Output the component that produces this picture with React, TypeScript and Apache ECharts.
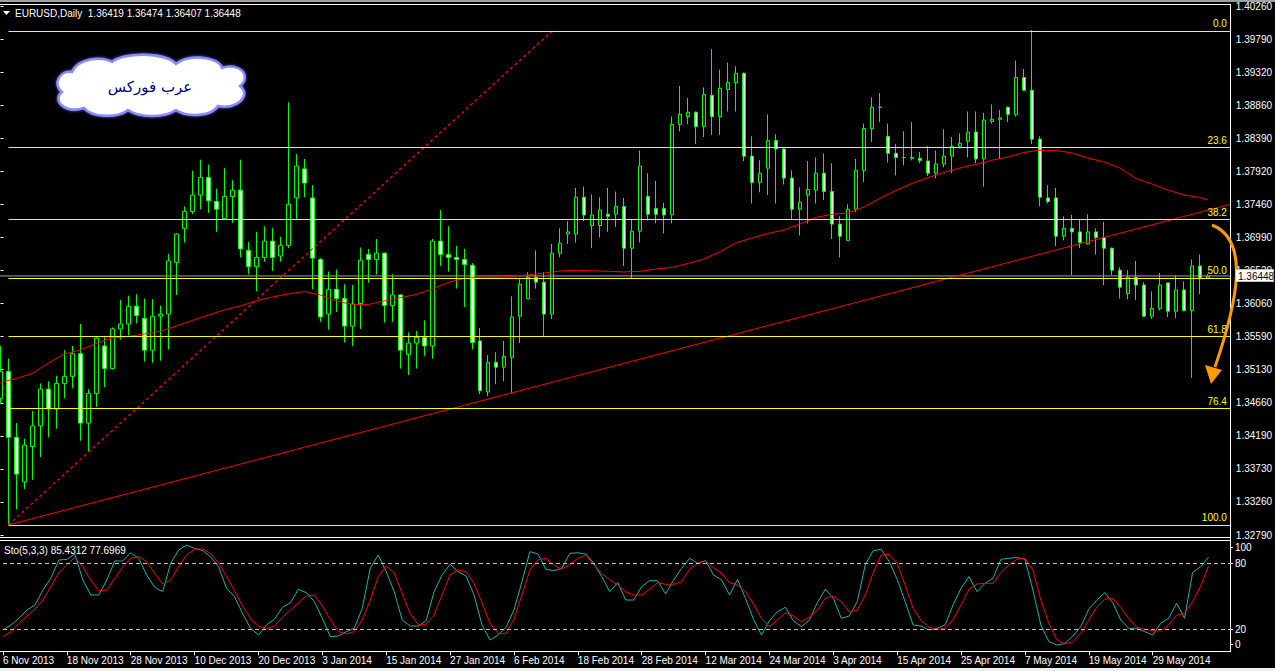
import React, { useEffect, useRef } from 'react';
import * as echarts from 'echarts';

// ---------- DATA ----------
const symbolTitle = 'EURUSD,Daily';
const tickLabels = ['6 Nov 2013', '18 Nov 2013', '28 Nov 2013', '10 Dec 2013', '20 Dec 2013', '3 Jan 2014', '15 Jan 2014', '27 Jan 2014', '6 Feb 2014', '18 Feb 2014', '28 Feb 2014', '12 Mar 2014', '24 Mar 2014', '3 Apr 2014', '15 Apr 2014', '25 Apr 2014', '7 May 2014', '19 May 2014', '29 May 2014'];
const barsPerTick = 8;
const priceTickLabels = ['1.32790', '1.33260', '1.33730', '1.34190', '1.34660', '1.35130', '1.35590', '1.36060', '1.36520', '1.36990', '1.37460', '1.37920', '1.38390', '1.38860', '1.39320', '1.39790', '1.40260'];
const priceMin = 1.3279;
const priceMax = 1.4026;
const priceStep = 0.00466875;

const opens = [
  1.3472, 1.3510, 1.3417, 1.3354, 1.3404, 1.3433, 1.3485, 1.3457, 1.3493, 1.3503,
  1.3535, 1.3437, 1.3479, 1.3546, 1.3514, 1.3570, 1.3577, 1.3602, 1.3585, 1.3540,
  1.3588, 1.3591, 1.3664, 1.3712, 1.3736, 1.3759, 1.3784, 1.3750, 1.3726, 1.3757,
  1.3766, 1.3681, 1.3658, 1.3671, 1.3694, 1.3673, 1.3688, 1.3755, 1.3796, 1.3755,
  1.3668, 1.3591, 1.3626, 1.3613, 1.3574, 1.3606, 1.3675, 1.3668, 1.3677, 1.3603,
  1.3618, 1.3534, 1.3550, 1.3558, 1.3546, 1.3694, 1.3675, 1.3671, 1.3668, 1.3660,
  1.3553, 1.3481, 1.3523, 1.3516, 1.3530, 1.3588, 1.3613, 1.3643, 1.3636, 1.3591,
  1.3677, 1.3704, 1.3704, 1.3756, 1.3716, 1.3716, 1.3732, 1.3732, 1.3743, 1.3684,
  1.3708, 1.3757, 1.3740, 1.3740, 1.3731, 1.3859, 1.3870, 1.3876, 1.3856, 1.3900,
  1.3870, 1.3908, 1.3918, 1.3931, 1.3814, 1.3777, 1.3797, 1.3836, 1.3824, 1.3783,
  1.3739, 1.3759, 1.3766, 1.3790, 1.3764, 1.3718, 1.3695, 1.3739, 1.3794, 1.3853,
  1.3883, 1.3842, 1.3818, 1.3812, 1.3811, 1.3811, 1.3807, 1.3790, 1.3803, 1.3814,
  1.3828, 1.3835, 1.3848, 1.3810, 1.3863, 1.3866, 1.3883, 1.3873, 1.3925, 1.3907,
  1.3838, 1.3755, 1.3755, 1.3701, 1.3712, 1.3707, 1.3690, 1.3707, 1.3699, 1.3684,
  1.3653, 1.3620, 1.3643, 1.3632, 1.3588, 1.3599, 1.3635, 1.3595, 1.3625, 1.3596,
  1.3659, 1.36419
];
const highs = [
  1.3546, 1.3528, 1.3437, 1.3415, 1.3454, 1.3493, 1.3496, 1.3504, 1.3540, 1.3546,
  1.3577, 1.3485, 1.3558, 1.3558, 1.3572, 1.3611, 1.3617, 1.3619, 1.3613, 1.3612,
  1.3603, 1.3676, 1.3705, 1.3743, 1.3793, 1.3809, 1.3802, 1.3768, 1.3797, 1.3780,
  1.3809, 1.3693, 1.3707, 1.3715, 1.3713, 1.3700, 1.3890, 1.3817, 1.3810, 1.3773,
  1.3670, 1.3651, 1.3654, 1.3633, 1.3632, 1.3685, 1.3683, 1.3697, 1.3678, 1.3647,
  1.3619, 1.3565, 1.3567, 1.3582, 1.3697, 1.3738, 1.3715, 1.3687, 1.3683, 1.3663,
  1.3571, 1.3533, 1.3537, 1.3553, 1.3616, 1.3640, 1.3650, 1.3681, 1.3650, 1.3690,
  1.3712, 1.3722, 1.3769, 1.3771, 1.3760, 1.3756, 1.3769, 1.3764, 1.3755, 1.3725,
  1.3822, 1.3790, 1.3779, 1.3748, 1.3870, 1.3913, 1.3896, 1.3877, 1.3911, 1.3965,
  1.3936, 1.3946, 1.3941, 1.3932, 1.3842, 1.3808, 1.3873, 1.3845, 1.3825, 1.3794,
  1.3770, 1.3807, 1.3812, 1.3818, 1.3804, 1.3729, 1.3746, 1.3810, 1.3860, 1.3897,
  1.3903, 1.3860, 1.3831, 1.3849, 1.3862, 1.3820, 1.3828, 1.3822, 1.3852, 1.3841,
  1.3846, 1.3877, 1.3877, 1.3875, 1.3887, 1.3879, 1.3884, 1.3949, 1.3937, 1.3992,
  1.3842, 1.3773, 1.3769, 1.3729, 1.3731, 1.3725, 1.3732, 1.3712, 1.3721, 1.3685,
  1.3657, 1.3653, 1.3666, 1.3636, 1.3623, 1.3649, 1.3635, 1.3646, 1.3637, 1.3668,
  1.3675, 1.36474
];
const lows = [
  1.3465, 1.3293, 1.3315, 1.3344, 1.3357, 1.3389, 1.3417, 1.3429, 1.3472, 1.3486,
  1.3412, 1.3397, 1.3460, 1.3488, 1.3513, 1.3555, 1.3561, 1.3578, 1.3524, 1.3522,
  1.3525, 1.3541, 1.3618, 1.3692, 1.3732, 1.3739, 1.3734, 1.3707, 1.3724, 1.3720,
  1.3671, 1.3647, 1.3623, 1.3665, 1.3652, 1.3665, 1.3684, 1.3725, 1.3756, 1.3626,
  1.3580, 1.3569, 1.3594, 1.3551, 1.3546, 1.3570, 1.3635, 1.3647, 1.3579, 1.3580,
  1.3514, 1.3505, 1.3514, 1.3532, 1.3528, 1.3659, 1.3651, 1.3627, 1.3601, 1.3541,
  1.3478, 1.3475, 1.3492, 1.3496, 1.3479, 1.3550, 1.3612, 1.3627, 1.3560, 1.3584,
  1.3671, 1.3690, 1.3692, 1.3722, 1.3684, 1.3699, 1.3707, 1.3714, 1.3659, 1.3642,
  1.3692, 1.3723, 1.3719, 1.3705, 1.3719, 1.3849, 1.3859, 1.3831, 1.3841, 1.3844,
  1.3844, 1.3877, 1.3877, 1.3807, 1.3747, 1.3763, 1.3759, 1.3747, 1.3774, 1.3725,
  1.3702, 1.3719, 1.3747, 1.3752, 1.3697, 1.3671, 1.3694, 1.3735, 1.3777, 1.3834,
  1.3862, 1.3805, 1.3787, 1.3801, 1.3808, 1.3804, 1.3786, 1.3783, 1.3798, 1.3790,
  1.3825, 1.3812, 1.3804, 1.3771, 1.3860, 1.3810, 1.3862, 1.3870, 1.3907, 1.3831,
  1.3743, 1.3747, 1.3687, 1.3695, 1.3646, 1.3684, 1.3689, 1.3675, 1.3632, 1.3646,
  1.3613, 1.3612, 1.3611, 1.3587, 1.3584, 1.3596, 1.3587, 1.3585, 1.3595, 1.3501,
  1.3619, 1.36407
];
const closes = [
  1.3510, 1.3417, 1.3365, 1.3406, 1.3433, 1.3485, 1.3457, 1.3493, 1.3503, 1.3535,
  1.3437, 1.3479, 1.3557, 1.3514, 1.3570, 1.3577, 1.3602, 1.3589, 1.3540, 1.3588,
  1.3591, 1.3666, 1.3704, 1.3736, 1.3759, 1.3784, 1.3751, 1.3739, 1.3757, 1.3766,
  1.3683, 1.3658, 1.3671, 1.3694, 1.3671, 1.3688, 1.3746, 1.3800, 1.3776, 1.3670,
  1.3587, 1.3626, 1.3613, 1.3574, 1.3605, 1.3667, 1.3668, 1.3677, 1.3603, 1.3618,
  1.3540, 1.3550, 1.3558, 1.3546, 1.3694, 1.3675, 1.3671, 1.3668, 1.3661, 1.3551,
  1.3483, 1.3523, 1.3516, 1.3531, 1.3587, 1.3633, 1.3643, 1.3636, 1.3591, 1.3677,
  1.3691, 1.3707, 1.3756, 1.3731, 1.3731, 1.3738, 1.3729, 1.3743, 1.3684, 1.3708,
  1.3800, 1.3732, 1.3732, 1.3731, 1.3859, 1.3873, 1.3876, 1.3856, 1.3901, 1.3870,
  1.3910, 1.3918, 1.3931, 1.3814, 1.3777, 1.3790, 1.3836, 1.3824, 1.3783, 1.3739,
  1.3749, 1.3767, 1.3790, 1.3764, 1.3718, 1.3701, 1.3739, 1.3794, 1.3853, 1.3883,
  1.3883, 1.3818, 1.3812, 1.3812, 1.3812, 1.3808, 1.3790, 1.3803, 1.3814, 1.3828,
  1.3832, 1.3848, 1.3810, 1.3865, 1.3866, 1.3868, 1.3873, 1.3925, 1.3907, 1.3838,
  1.3756, 1.3750, 1.3701, 1.3712, 1.3707, 1.3692, 1.3707, 1.3699, 1.3684, 1.3653,
  1.3629, 1.3643, 1.3632, 1.3588, 1.3599, 1.3632, 1.3595, 1.3625, 1.3596, 1.3659,
  1.3642, 1.36448
];

// moving average (red), read every other bar
const maBars = [0, 2, 4, 6, 8, 10, 12, 14, 16, 18, 20, 22, 24, 26, 28, 30, 32, 34, 36, 38, 40, 42, 44, 46, 48, 50, 52, 54, 56, 58, 60, 62, 64, 66, 68, 70, 72, 74, 76, 78, 80, 82, 84, 86, 88, 90, 92, 94, 96, 98, 100, 102, 104, 106, 108, 110, 112, 114, 116, 118, 120, 122, 124, 126, 128, 130, 132, 134, 136, 138, 140, 142, 144, 146, 148, 150, 151];
const maValues = [
  1.34944, 1.35001, 1.35071, 1.35219, 1.35347, 1.35403, 1.35495, 1.35573, 1.35594, 1.35629,
  1.35667, 1.35742, 1.35820, 1.35897, 1.35968, 1.36024, 1.36095, 1.36151, 1.36194, 1.36229,
  1.36180, 1.36095, 1.36045, 1.36045, 1.36095, 1.36141, 1.36187, 1.36264, 1.36356, 1.36413,
  1.36430, 1.36430, 1.36441, 1.36462, 1.36490, 1.36518, 1.36528, 1.36521, 1.36514, 1.36504,
  1.36514, 1.36547, 1.36568, 1.36624, 1.36688, 1.36791, 1.36914, 1.36984, 1.37048, 1.37097,
  1.37182, 1.37274, 1.37319, 1.37337, 1.37422, 1.37545, 1.37655, 1.37754, 1.37836, 1.37909,
  1.37973, 1.38022, 1.38082, 1.38128, 1.38192, 1.38223, 1.38220, 1.38185, 1.38114, 1.38058,
  1.37973, 1.37825, 1.37747, 1.37662, 1.37592, 1.37556, 1.37521
];

// Fibonacci retracement object
const fibLevels = [0, 23.6, 38.2, 50, 61.8, 76.4, 100];
const fibLowBar = 1;
const fibLowPrice = 1.32932;
const fibHighBar = 69;
const fibHighPrice = 1.39907;

// trend line anchors (ray)
const trendBars = [1, 61];
const trendPrices = [1.32932, 1.3471];

// Stochastic(5,3,3)
const stochK = [
  19.4, 23.9, 30.0, 37.5, 42.1, 55.7, 66.4, 83.0, 83.6, 88.5,
  64.8, 51.2, 51.2, 64.8, 82.1, 82.1, 89.6, 84.5, 69.4, 58.2,
  54.2, 80.0, 92.1, 96.6, 93.6, 91.5, 86.1, 76.9, 57.3, 49.7,
  34.5, 20.9, 14.8, 23.9, 29.1, 40.0, 44.2, 56.4, 53.3, 45.2,
  30.0, 13.3, 13.9, 17.9, 20.9, 39.1, 75.4, 87.5, 72.4, 54.2,
  28.5, 23.0, 23.0, 27.8, 54.2, 69.4, 79.1, 72.4, 68.5, 51.2,
  23.9, 10.3, 14.8, 21.8, 37.5, 63.3, 90.6, 88.5, 74.5, 73.3,
  75.4, 89.0, 89.6, 88.5, 80.0, 67.9, 54.2, 62.4, 46.6, 46.6,
  58.8, 64.2, 64.2, 52.1, 64.8, 75.4, 84.5, 80.0, 82.4, 69.4,
  64.8, 51.2, 65.4, 48.1, 29.1, 14.8, 27.8, 36.0, 40.0, 27.8,
  22.4, 28.5, 44.2, 56.4, 48.1, 30.0, 32.1, 45.1, 78.5, 91.5,
  92.7, 81.5, 65.4, 45.1, 23.9, 23.0, 19.4, 20.9, 23.9, 42.1,
  57.3, 67.9, 54.2, 61.8, 66.4, 83.6, 84.5, 85.4, 83.6, 55.7,
  23.9, 8.8, 5.7, 7.2, 13.9, 22.4, 38.2, 46.6, 53.3, 44.2,
  28.5, 20.9, 20.9, 17.9, 14.8, 25.4, 30.0, 43.6, 30.0, 71.5,
  76.9, 85.4312
];
const stochD = [
  13.3, 17.9, 25.4, 32.1, 38.2, 46.6, 58.8, 71.5, 78.5, 85.5,
  76.9, 64.8, 55.1, 55.7, 66.4, 76.9, 84.5, 86.1, 81.5, 70.9,
  61.2, 64.8, 76.9, 87.5, 93.0, 93.0, 89.0, 80.6, 67.9, 55.1,
  41.2, 30.0, 23.0, 20.3, 23.0, 30.9, 37.5, 44.2, 50.3, 51.2,
  41.2, 29.1, 17.9, 15.8, 17.9, 28.5, 46.6, 67.9, 77.6, 71.5,
  52.7, 34.5, 24.5, 24.5, 33.0, 51.2, 69.4, 73.9, 72.4, 61.8,
  44.2, 25.4, 16.3, 16.3, 29.1, 51.2, 73.9, 83.0, 84.5, 78.5,
  74.5, 79.1, 84.5, 87.5, 78.5, 70.9, 64.8, 60.3, 54.2, 51.2,
  51.2, 56.4, 62.4, 60.9, 60.9, 63.3, 74.5, 80.0, 82.1, 76.0,
  70.9, 62.4, 60.3, 54.2, 43.0, 30.0, 22.4, 28.5, 35.1, 32.1,
  26.9, 30.9, 37.5, 48.1, 50.3, 45.1, 36.0, 37.5, 51.2, 71.5,
  87.5, 88.1, 80.0, 60.3, 39.1, 27.8, 21.8, 20.0, 20.9, 28.5,
  42.1, 56.4, 61.2, 61.8, 61.8, 71.5, 78.5, 83.6, 84.5, 73.9,
  46.6, 25.4, 10.3, 6.6, 8.8, 16.3, 28.5, 40.0, 47.5, 48.1,
  40.0, 30.0, 21.8, 20.0, 18.7, 18.4, 23.9, 33.0, 34.5, 45.1,
  58.8, 77.6969
];
const stochLevels = [20, 80];
const stochAxisLabels = [100, 80, 20, 0];
const logoText = 'عرب فوركس';

// ---------- STYLE ----------
const FONT = 'Liberation Sans, Arial, sans-serif';
const X_MAX = 153.75;

const cloudPath =
  'M 72 72 C 60 70 52 84 62 92 C 52 100 64 114 84 108 C 92 118 118 118 128 110 C 140 118 164 118 176 110 ' +
  'C 188 118 212 116 218 106 C 236 110 252 96 240 86 C 252 76 240 62 222 68 C 218 56 188 54 176 64 ' +
  'C 166 52 122 52 112 62 C 102 56 78 58 72 72 Z';

export default function App() {
  const ref = useRef<HTMLDivElement>(null);

  useEffect(() => {
    if (!ref.current) return;
    try {
      echarts.graphic.registerShape('cloudLogo', echarts.graphic.extendPath(cloudPath, {}));
    } catch (e) { /* already registered */ }
    const chart = echarts.init(ref.current, null, { renderer: 'svg' });

    const last = opens.length - 1;
    const candleData = opens.map((o, i) => [i, o, closes[i], lows[i], highs[i]]);
    const maData = maBars.map((b, i) => [b, maValues[i]]);
    const kData = stochK.map((v, i) => [i, v]);
    const dData = stochD.map((v, i) => [i, v]);
    const trendSlope = (trendPrices[1] - trendPrices[0]) / (trendBars[1] - trendBars[0]);
    const trendData = [
      [trendBars[0], trendPrices[0]],
      [X_MAX, trendPrices[0] + trendSlope * (X_MAX - trendBars[0])],
    ];
    const fibRange = fibHighPrice - fibLowPrice;
    const fibLines = fibLevels.map((lv) => {
      const p = fibHighPrice - (fibRange * lv) / 100;
      return [
        { coord: [fibLowBar, p], label: { formatter: lv.toFixed(1) } },
        { coord: [X_MAX, p] },
      ];
    });
    const tickBars = tickLabels.map((_, i) => i * barsPerTick);

    const option: any = {
      animation: false,
      backgroundColor: '#000000',
      grid: [
        { left: 0.5, top: 6, width: 1230, height: 529 },
        { left: 0.5, top: 541.3, width: 1230, height: 110 },
      ],
      xAxis: [
        { type: 'value', gridIndex: 0, min: 0, max: X_MAX, show: false },
        {
          type: 'value', gridIndex: 1, min: 0, max: X_MAX, interval: barsPerTick,
          axisLine: { show: false },
          splitLine: { show: false },
          axisTick: { show: true, length: 4, lineStyle: { color: '#ffffff' }, customValues: tickBars },
          axisLabel: {
            color: '#ffffff', fontSize: 10, fontFamily: FONT, align: 'left', margin: 4,
            showMinLabel: true, showMaxLabel: true, hideOverlap: false, customValues: tickBars,
            formatter: (v: number) => tickLabels[Math.round(v / barsPerTick)] || '',
          },
        },
      ],
      yAxis: [
        {
          type: 'value', gridIndex: 0, position: 'right', min: priceMin, max: priceMax, interval: priceStep,
          axisLine: { show: false },
          splitLine: { show: false },
          axisTick: { show: true, length: 3, lineStyle: { color: '#ffffff' } },
          axisLabel: {
            color: '#ffffff', fontSize: 10, fontFamily: FONT, margin: 6,
            showMinLabel: true, showMaxLabel: true,
            formatter: (v: number) => priceTickLabels[Math.round((v - priceMin) / priceStep)] || '',
          },
        },
        { type: 'value', gridIndex: 1, position: 'right', min: 0, max: 100, show: false },
      ],
      series: [
        {
          type: 'candlestick', xAxisIndex: 0, yAxisIndex: 0, data: candleData, barWidth: 4,
          itemStyle: { color: '#000000', color0: '#ffffff', borderColor: '#00ff00', borderColor0: '#00ff00', borderWidth: 1 },
          emphasis: { disabled: true }, silent: true,
        },
        {
          type: 'line', xAxisIndex: 0, yAxisIndex: 0, data: [[fibLowBar, fibLowPrice]], symbol: 'none', silent: true,
          lineStyle: { width: 0 },
          markLine: {
            silent: true, symbol: ['none', 'none'], animation: false,
            lineStyle: { color: '#ffff00', width: 1, type: 'solid' },
            label: { show: true, position: 'insideEndTop', color: '#ffff00', fontSize: 10, fontFamily: FONT, distance: [3, 2] },
            data: fibLines,
          },
        },
        {
          type: 'line', xAxisIndex: 0, yAxisIndex: 0, symbol: 'none', silent: true,
          data: [[-1, closes[last]], [X_MAX, closes[last]]],
          lineStyle: { color: '#a0a0a0', width: 1 },
        },
        {
          type: 'line', xAxisIndex: 0, yAxisIndex: 0, symbol: 'none', silent: true,
          data: [[fibLowBar, fibLowPrice], [fibHighBar, fibHighPrice]],
          lineStyle: { color: '#ff0000', width: 1.3, type: [3, 3] },
        },
        {
          type: 'line', xAxisIndex: 0, yAxisIndex: 0, symbol: 'none', silent: true,
          data: trendData, lineStyle: { color: '#ff0000', width: 1 },
        },
        {
          type: 'line', xAxisIndex: 0, yAxisIndex: 0, symbol: 'none', silent: true,
          data: maData, lineStyle: { color: '#ff0000', width: 1 },
        },
        {
          type: 'line', xAxisIndex: 1, yAxisIndex: 1, symbol: 'none', silent: true,
          data: kData, lineStyle: { color: '#20b2aa', width: 1 },
          markLine: {
            silent: true, symbol: ['none', 'none'], animation: false, label: { show: false },
            lineStyle: { color: '#c0c0c0', width: 1, type: [4, 3] },
            data: stochLevels.map((l) => ({ yAxis: l })),
          },
        },
        {
          type: 'line', xAxisIndex: 1, yAxisIndex: 1, symbol: 'none', silent: true,
          data: dData, lineStyle: { color: '#ff0000', width: 1 },
        },
      ],
    };
    chart.setOption(option);

    const yPrice = chart.convertToPixel({ yAxisIndex: 0 }, closes[last]) as number;
    const stochTexts = stochAxisLabels.map((v) => {
      let y = chart.convertToPixel({ yAxisIndex: 1 }, v) as number;
      y = Math.min(644, Math.max(547, y));
      return [
        { type: 'line', shape: { x1: 1231, y1: Math.round(y) + 0.5, x2: 1233, y2: Math.round(y) + 0.5 }, style: { stroke: '#ffffff', lineWidth: 1 } },
        { type: 'text', x: 1235, y, style: { text: String(v), fill: '#ffffff', font: `10px ${FONT}`, verticalAlign: 'middle' } },
      ];
    }).flat();

    const header = `${symbolTitle}  ${opens[last].toFixed(5)} ${highs[last].toFixed(5)} ${lows[last].toFixed(5)} ${closes[last].toFixed(5)}`;
    const stoLabel = `Sto(5,3,3) ${stochK[last].toFixed(4)} ${stochD[last].toFixed(4)}`;

    chart.setOption({
      graphic: [
        { type: 'rect', shape: { x: 0, y: 0, width: 1275, height: 2 }, style: { fill: '#a0a0a0' } },
        { type: 'line', shape: { x1: 0, y1: 4.5, x2: 1231, y2: 4.5 }, style: { stroke: '#ffffff', lineWidth: 1 } },
        { type: 'line', shape: { x1: 1230.5, y1: 4, x2: 1230.5, y2: 652 }, style: { stroke: '#ffffff', lineWidth: 1 } },
        { type: 'line', shape: { x1: 0, y1: 537.5, x2: 1231, y2: 537.5 }, style: { stroke: '#ffffff', lineWidth: 1 } },
        { type: 'line', shape: { x1: 0, y1: 540.5, x2: 1231, y2: 540.5 }, style: { stroke: '#ffffff', lineWidth: 1 } },
        { type: 'line', shape: { x1: 0, y1: 651.5, x2: 1231, y2: 651.5 }, style: { stroke: '#ffffff', lineWidth: 1 } },
        { type: 'rect', shape: { x: 0, y: 668, width: 1275, height: 3 }, style: { fill: '#f0f0f0' } },
        { type: 'polygon', shape: { points: [[3, 11], [10, 11], [6.5, 15]] }, style: { fill: '#ffffff' } },
        { type: 'text', x: 15, y: 13, style: { text: header, fill: '#ffffff', font: `10px ${FONT}`, verticalAlign: 'middle' } },
        { type: 'text', x: 4, y: 550, style: { text: stoLabel, fill: '#ffffff', font: `10px ${FONT}`, verticalAlign: 'middle' } },
        ...stochTexts,
        {
          type: 'cloudLogo', x: 0, y: 0, z: 100,
          style: { fill: '#ffffff', stroke: '#8c8cff', lineWidth: 2.5, shadowBlur: 3, shadowColor: '#6060ff' },
        },
        {
          type: 'text', x: 150, y: 87, z: 101,
          style: { text: logoText, fill: '#000080', font: '15px DejaVu Sans', align: 'center', verticalAlign: 'middle' },
        },
        {
          type: 'bezierCurve', z: 100,
          shape: { x1: 1212, y1: 225, cpx1: 1250, cpy1: 240, cpx2: 1238, cpy2: 300, x2: 1215, y2: 367 },
          style: { stroke: '#ff9a00', lineWidth: 3, fill: null },
        },
        {
          type: 'polygon', z: 100,
          shape: { points: [[1205, 365], [1222, 370], [1211, 384]] },
          style: { fill: '#ff9a00' },
        },
        { type: 'rect', z: 100, shape: { x: 1235.5, y: Math.round(yPrice) - 6.5, width: 38, height: 12 }, style: { fill: '#ffffff', stroke: '#c0c0c0', lineWidth: 1 } },
        { type: 'text', z: 101, x: 1238, y: Math.round(yPrice), style: { text: closes[last].toFixed(5), fill: '#000000', font: `10px ${FONT}`, verticalAlign: 'middle' } },
      ],
    });

    return () => chart.dispose();
  }, []);

  return <div ref={ref} style={{ position: 'absolute', left: 0, top: 0, width: 1275, height: 671, background: '#000' }} />;
}
